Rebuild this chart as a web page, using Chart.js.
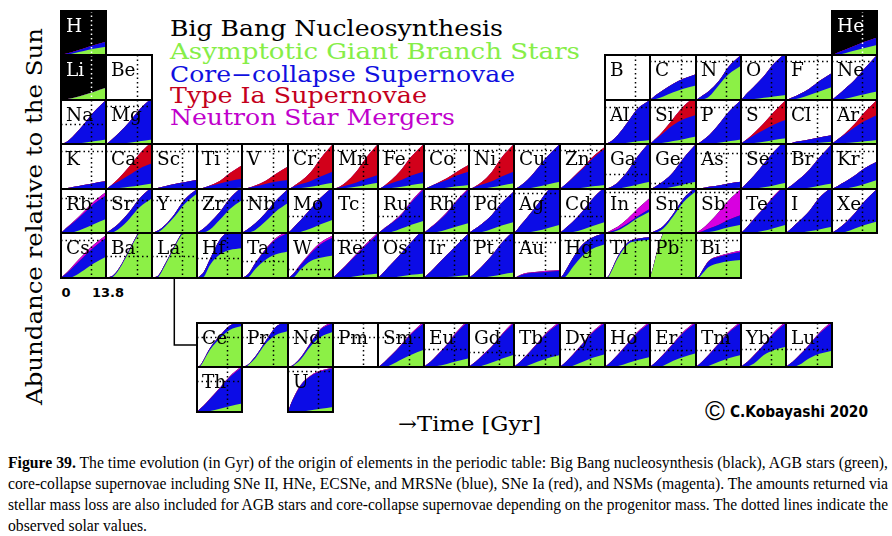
<!DOCTYPE html>
<html><head><meta charset="utf-8">
<script src="https://cdn.jsdelivr.net/npm/chart.js@4.4.0/dist/chart.umd.min.js"></script>
<style>
html,body{margin:0;padding:0;background:#fff;}
#page{position:relative;width:892px;height:536px;overflow:hidden;background:#fff;}
#page canvas{position:absolute;}
#txt{position:absolute;left:0;top:0;}
</style></head><body>
<div id="page">
<svg id="txt" width="892" height="536" xmlns="http://www.w3.org/2000/svg">
  <g font-family="DejaVu Serif" font-size="22">
    <text x="170" y="36" textLength="333" lengthAdjust="spacingAndGlyphs" fill="#000">Big Bang Nucleosynthesis</text>
    <text x="170" y="58.5" textLength="410" lengthAdjust="spacingAndGlyphs" fill="#86ee48">Asymptotic Giant Branch Stars</text>
    <text x="170" y="81.5" textLength="345" lengthAdjust="spacingAndGlyphs" fill="#1010e0">Core−collapse Supernovae</text>
    <text x="170" y="103" textLength="257" lengthAdjust="spacingAndGlyphs" fill="#c4001c">Type Ia Supernovae</text>
    <text x="170" y="124.5" textLength="285" lengthAdjust="spacingAndGlyphs" fill="#c000cc">Neutron Star Mergers</text>
  </g>
  <text transform="translate(41.5,405) rotate(-90)" font-family="DejaVu Serif" font-size="22" textLength="377" lengthAdjust="spacingAndGlyphs" fill="#000">Abundance relative to the Sun</text>
  <g id="xticks" font-family="DejaVu Sans" font-weight="bold" font-size="13" fill="#000"></g>
  <polyline points="174.3,278 174.3,345 197.5,345" fill="none" stroke="#000" stroke-width="1.5"/>
  <text x="398" y="431" font-family="DejaVu Serif" font-size="21" textLength="143" lengthAdjust="spacingAndGlyphs" fill="#000">→Time [Gyr]</text>
  <text x="705" y="420" font-family="Liberation Sans" font-size="27" fill="#000">©</text>
  <text x="730" y="416.7" font-family="DejaVu Sans" font-weight="bold" font-size="16" textLength="138" lengthAdjust="spacingAndGlyphs" fill="#000">C.Kobayashi 2020</text>
  <g font-family="Liberation Serif" font-size="16.5" fill="#000">
    <text x="8" y="467.5" textLength="880" lengthAdjust="spacingAndGlyphs"><tspan font-weight="bold">Figure 39.</tspan> The time evolution (in Gyr) of the origin of elements in the periodic table: Big Bang nucleosynthesis (black), AGB stars (green),</text>
    <text x="8" y="488.5" textLength="880" lengthAdjust="spacingAndGlyphs">core-collapse supernovae including SNe II, HNe, ECSNe, and MRSNe (blue), SNe Ia (red), and NSMs (magenta). The amounts returned via</text>
    <text x="8" y="509.5" textLength="880" lengthAdjust="spacingAndGlyphs">stellar mass loss are also included for AGB stars and core-collapse supernovae depending on the progenitor mass. The dotted lines indicate the</text>
    <text x="8" y="530.5" textLength="139" lengthAdjust="spacingAndGlyphs">observed solar values.</text>
  </g>
</svg>
</div>
<script>
// ---------------- DATA ----------------
// time samples (Gyr) shared by every panel
const timeGyr = [0, 1, 2, 4, 7, 10, 13.8];
const xTickLabels = ['0', '13.8'];
const solarBirthGyr = 9.2;

const symbols = ['H','He','Li','Be','B','C','N','O','F','Ne','Na','Mg','Al','Si','P','S','Cl','Ar',
  'K','Ca','Sc','Ti','V','Cr','Mn','Fe','Co','Ni','Cu','Zn','Ga','Ge','As','Se','Br','Kr',
  'Rb','Sr','Y','Zr','Nb','Mo','Tc','Ru','Rh','Pd','Ag','Cd','In','Sn','Sb','Te','I','Xe',
  'Cs','Ba','La','Hf','Ta','W','Re','Os','Ir','Pt','Au','Hg','Tl','Pb','Bi',
  'Ce','Pr','Nd','Pm','Sm','Eu','Gd','Tb','Dy','Ho','Er','Tm','Yb','Lu','Th','U'];

// periodic-table slot of each symbol (layout)
const gridRow = [0,0,1,1,1,1,1,1,1,1,2,2,2,2,2,2,2,2,
  3,3,3,3,3,3,3,3,3,3,3,3,3,3,3,3,3,3,
  4,4,4,4,4,4,4,4,4,4,4,4,4,4,4,4,4,4,
  5,5,5,5,5,5,5,5,5,5,5,5,5,5,5,
  6,6,6,6,6,6,6,6,6,6,6,6,6,6,7,7];
const gridCol = [0,17,0,1,12,13,14,15,16,17,0,1,12,13,14,15,16,17,
  0,1,2,3,4,5,6,7,8,9,10,11,12,13,14,15,16,17,
  0,1,2,3,4,5,6,7,8,9,10,11,12,13,14,15,16,17,
  0,1,2,3,4,5,6,7,8,9,10,11,12,13,14,
  3,4,5,6,7,8,9,10,11,12,13,14,15,16,3,5];

// observed solar level in each panel (panel units, null = not drawn)
const solarLevel = {H:null,He:null,Li:null,Be:null,B:null,C:.87,N:.87,O:.87,F:.87,Ne:.87,
  Na:.45,Mg:.87,Al:.85,Si:.85,P:.85,S:.85,Cl:.85,Ar:.85,
  K:.85,Ca:.85,Sc:.85,Ti:.85,V:.85,Cr:.87,Mn:.87,Fe:.87,Co:.87,Ni:.87,Cu:.87,Zn:.87,Ga:.33,Ge:.14,As:.8,Se:.8,Br:.8,Kr:.84,
  Rb:.8,Sr:.75,Y:.75,Zr:.75,Nb:.75,Mo:.38,Tc:null,Ru:.38,Rh:.85,Pd:.85,Ag:.9,Cd:.38,In:.94,Sn:.94,Sb:.94,Te:.3,I:.3,Xe:.3,
  Cs:.85,Ba:.49,La:.49,Hf:.44,Ta:.38,W:.21,Re:.85,Os:.85,Ir:.85,Pt:.85,Au:.8,Hg:.85,Tl:.85,Pb:.85,Bi:.85,
  Ce:.69,Pr:.69,Nd:.69,Pm:.69,Sm:.69,Eu:.4,Gd:.35,Tb:.27,Dy:.42,Ho:.38,Er:.38,Tm:.38,Yb:.42,Lu:.42,Th:.68,U:.9};

// contributions (panel units) at timeGyr, per source
const bbn = {
  H:[1,1,1,1,1,1,1], He:[1,1,1,1,1,1,1], Li:[1,1,1,1,1,1,1]
};
const agb = {
  H:[0,0,0.01,0.04,0.09,0.14,0.19], He:[0,0,0.01,0.04,0.10,0.16,0.23], Li:[0,0.01,0.02,0.05,0.11,0.18,0.27],
  C:[0,0.01,0.03,0.08,0.17,0.25,0.32], N:[0,0,0.01,0.08,0.33,0.57,0.76], O:[0,0,0.01,0.02,0.05,0.08,0.11],
  F:[0,0,0.01,0.04,0.11,0.19,0.29], Ne:[0,0,0.01,0.03,0.08,0.13,0.19],
  Na:[0,0,0,0.01,0.03,0.06,0.10], Mg:[0,0,0,0.01,0.03,0.06,0.10], Al:[0,0,0,0.01,0.03,0.06,0.09],
  Si:[0,0,0.01,0.03,0.07,0.11,0.17], P:[0,0,0,0.01,0.03,0.06,0.10], S:[0,0,0.01,0.02,0.05,0.09,0.13],
  Cl:[0,0,0,0.01,0.02,0.03,0.05], Ar:[0,0,0.01,0.02,0.04,0.06,0.09],
  K:[0,0,0,0,0.01,0.01,0.02], Ca:[0,0,0,0.02,0.05,0.08,0.12], Sc:[0,0,0,0,0.01,0.01,0.02],
  Ti:[0,0,0,0,0.01,0.02,0.03], V:[0,0,0,0,0.01,0.01,0.02], Cr:[0,0,0,0.02,0.05,0.09,0.14],
  Mn:[0,0,0,0.02,0.05,0.09,0.14], Fe:[0,0,0,0.02,0.05,0.09,0.13], Co:[0,0,0,0.01,0.03,0.06,0.09],
  Ni:[0,0,0,0.01,0.04,0.08,0.13], Cu:[0,0,0,0.01,0.05,0.10,0.16], Zn:[0,0,0,0.01,0.03,0.06,0.09],
  Ga:[0,0,0,0.01,0.05,0.10,0.16], Ge:[0,0,0,0.01,0.05,0.10,0.16], As:[0,0,0,0,0.01,0.02,0.03],
  Se:[0,0,0,0.01,0.04,0.08,0.14], Br:[0,0,0,0.01,0.03,0.07,0.12], Kr:[0,0,0,0.01,0.05,0.11,0.20],
  Rb:[0,0,0,0.02,0.10,0.20,0.32], Sr:[0,0,0.01,0.10,0.32,0.58,0.79], Y:[0,0,0.02,0.14,0.38,0.66,0.90],
  Zr:[0,0,0.01,0.08,0.30,0.54,0.75], Nb:[0,0,0.01,0.07,0.26,0.48,0.68], Mo:[0,0,0,0.03,0.10,0.20,0.30],
  Ru:[0,0,0,0.02,0.10,0.19,0.28], Rh:[0,0,0,0.02,0.08,0.15,0.23], Pd:[0,0,0,0.02,0.09,0.17,0.25],
  Ag:[0,0,0,0.01,0.05,0.11,0.19], Cd:[0,0,0,0.02,0.08,0.16,0.25], In:[0,0,0.01,0.06,0.19,0.34,0.49],
  Sn:[0,0,0.01,0.10,0.38,0.70,0.95], Sb:[0,0,0,0.02,0.07,0.13,0.19], Te:[0,0,0,0.01,0.05,0.11,0.19],
  I:[0,0,0,0.01,0.04,0.08,0.14], Xe:[0,0,0,0.02,0.10,0.18,0.26],
  Cs:[0,0,0,0.04,0.17,0.32,0.47], Ba:[0,0,0.02,0.20,0.60,1.00,1.20], La:[0,0,0.03,0.28,0.70,1.05,1.20],
  Hf:[0,0,0.02,0.29,0.52,0.62,0.66], Ta:[0,0,0.02,0.20,0.40,0.52,0.59], W:[0,0,0.03,0.20,0.38,0.45,0.50],
  Re:[0,0,0,0.01,0.04,0.07,0.10], Os:[0,0,0,0.01,0.04,0.07,0.10], Ir:[0,0,0,0.01,0.02,0.04,0.07],
  Pt:[0,0,0,0.01,0.04,0.08,0.12], Au:[0,0,0,0.005,0.01,0.015,0.02], Hg:[0,0,0.05,0.25,0.50,0.65,0.75],
  Tl:[0,0.02,0.15,0.45,0.75,0.82,0.85], Pb:[0,0.25,0.55,1.00,1.20,1.30,1.40], Bi:[0,0.02,0.10,0.25,0.33,0.37,0.40],
  Ce:[0,0.02,0.13,0.39,0.65,0.84,0.93], Pr:[0,0,0.05,0.20,0.52,0.72,0.82], Nd:[0,0,0.05,0.18,0.48,0.68,0.80],
  Sm:[0,0,0,0.05,0.17,0.28,0.39], Eu:[0,0,0,0.02,0.07,0.13,0.20], Gd:[0,0,0,0.03,0.10,0.19,0.28],
  Tb:[0,0,0,0.03,0.12,0.20,0.27], Dy:[0,0,0,0.03,0.12,0.21,0.29], Ho:[0,0,0,0.02,0.09,0.16,0.23],
  Er:[0,0,0,0.03,0.14,0.23,0.31], Tm:[0,0,0,0.03,0.12,0.20,0.27], Yb:[0,0,0.01,0.08,0.27,0.38,0.46],
  Lu:[0,0,0,0.05,0.20,0.30,0.37], Th:[0,0,0,0.02,0.07,0.13,0.19], U:[0,0,0,0.01,0.04,0.07,0.11]
};
const ccsn = {
  H:[0,0.02,0.03,0.04,0.06,0.08,0.11], He:[0,0.03,0.05,0.08,0.11,0.14,0.17],
  C:[0,0.05,0.09,0.14,0.19,0.22,0.25], N:[0,0.05,0.09,0.12,0.09,0.17,0.24], O:[0,0.08,0.15,0.28,0.48,0.72,0.94],
  F:[0,0.03,0.05,0.09,0.14,0.23,0.31], Ne:[0,0.06,0.11,0.22,0.37,0.57,0.81],
  Na:[0,0.02,0.06,0.19,0.42,0.66,0.90], Mg:[0,0.05,0.12,0.25,0.47,0.72,0.95], Al:[0,0.03,0.07,0.20,0.47,0.74,0.91],
  Si:[0,0.07,0.12,0.22,0.36,0.45,0.49], P:[0,0.03,0.08,0.19,0.42,0.67,0.90], S:[0,0.06,0.10,0.18,0.27,0.35,0.42],
  Cl:[0,0.01,0.03,0.05,0.08,0.12,0.15], Ar:[0,0.06,0.11,0.20,0.34,0.46,0.57],
  K:[0,0.01,0.02,0.05,0.08,0.12,0.15], Ca:[0,0.05,0.10,0.16,0.26,0.37,0.45], Sc:[0,0.01,0.03,0.06,0.10,0.14,0.18],
  Ti:[0,0.01,0.03,0.07,0.11,0.16,0.20], V:[0,0.01,0.03,0.06,0.10,0.15,0.18], Cr:[0,0.03,0.06,0.09,0.13,0.19,0.25],
  Mn:[0,0.02,0.04,0.06,0.09,0.13,0.17], Fe:[0,0.03,0.07,0.11,0.15,0.21,0.26], Co:[0,0.03,0.06,0.11,0.17,0.24,0.30],
  Ni:[0,0.02,0.05,0.09,0.13,0.20,0.26], Cu:[0,0.03,0.08,0.19,0.40,0.62,0.84], Zn:[0,0.06,0.12,0.24,0.42,0.62,0.81],
  Ga:[0,0.02,0.05,0.14,0.35,0.62,0.89], Ge:[0,0.03,0.07,0.16,0.33,0.58,0.84], As:[0,0.01,0.02,0.05,0.07,0.10,0.13],
  Se:[0,0.07,0.15,0.29,0.52,0.74,0.96], Br:[0,0.05,0.10,0.21,0.40,0.63,0.88], Kr:[0,0.04,0.08,0.15,0.25,0.35,0.41],
  Rb:[0,0.07,0.13,0.23,0.35,0.46,0.54], Sr:[0,0.05,0.09,0.13,0.16,0.20,0.26], Y:[0,0.03,0.04,0.04,0.06,0.10,0.10],
  Zr:[0,0.05,0.09,0.16,0.18,0.24,0.30], Nb:[0,0.05,0.09,0.15,0.19,0.24,0.32], Mo:[0,0.07,0.15,0.27,0.45,0.60,0.75],
  Ru:[0,0.05,0.11,0.20,0.31,0.51,0.72], Rh:[0,0.06,0.12,0.22,0.37,0.57,0.77], Pd:[0,0.05,0.10,0.19,0.32,0.51,0.70],
  Ag:[0,0.08,0.18,0.35,0.59,0.84,1.01], Cd:[0,0.06,0.13,0.24,0.42,0.62,0.80], In:[0,0.02,0.03,0.03,0.03,0.04,0.06],
  Sn:[0,0.03,0.05,0.06,0.06,0.08,0.10], Sb:[0,0.02,0.04,0.08,0.12,0.17,0.22], Te:[0,0.07,0.15,0.31,0.51,0.71,0.91],
  I:[0,0.06,0.13,0.26,0.46,0.72,0.91], Xe:[0,0.05,0.10,0.20,0.35,0.54,0.74],
  Cs:[0,0.06,0.12,0.22,0.30,0.36,0.42], Ba:[0,0.02,0.03,0.03,0.03,0.03,0.03], La:[0,0.02,0.03,0.03,0.03,0.03,0.03],
  Hf:[0,0.05,0.10,0.13,0.33,0.43,0.54], Ta:[0,0.04,0.08,0.13,0.22,0.33,0.41], W:[0,0.05,0.09,0.10,0.17,0.30,0.40],
  Re:[0,0.07,0.14,0.27,0.46,0.65,0.87], Os:[0,0.07,0.15,0.30,0.51,0.73,1.00], Ir:[0,0.07,0.14,0.28,0.49,0.69,0.93],
  Pt:[0,0.06,0.12,0.25,0.46,0.70,0.93], Au:[0,0.03,0.06,0.095,0.11,0.125,0.14], Hg:[0,0.08,0.15,0.20,0.25,0.25,0.25],
  Tl:[0,0.02,0.03,0.04,0.04,0.05,0.06], Pb:[0,0.01,0.01,0.01,0.01,0.01,0.01], Bi:[0,0.03,0.07,0.13,0.14,0.16,0.18],
  Ce:[0,0.02,0.03,0.04,0.06,0.10,0.10], Pr:[0,0.02,0.02,0.04,0.06,0.18,0.23], Nd:[0,0.02,0.02,0.04,0.07,0.17,0.20],
  Sm:[0,0.05,0.12,0.21,0.33,0.47,0.61], Eu:[0,0.06,0.12,0.24,0.43,0.65,0.85], Gd:[0,0.06,0.12,0.22,0.36,0.53,0.72],
  Tb:[0,0.06,0.13,0.25,0.41,0.58,0.73], Dy:[0,0.06,0.13,0.25,0.41,0.57,0.71], Ho:[0,0.06,0.13,0.26,0.44,0.62,0.77],
  Er:[0,0.06,0.13,0.25,0.39,0.55,0.69], Tm:[0,0.06,0.13,0.25,0.41,0.58,0.73], Yb:[0,0.06,0.11,0.18,0.23,0.38,0.54],
  Lu:[0,0.06,0.12,0.21,0.30,0.46,0.63], Th:[0,0.07,0.14,0.27,0.46,0.64,0.81], U:[0,0.20,0.35,0.59,0.76,0.83,0.86]
};
const snia = {
  Si:[0,0,0.01,0.05,0.15,0.29,0.44], S:[0,0,0.01,0.05,0.15,0.28,0.45], Ar:[0,0,0,0.02,0.08,0.20,0.34],
  Ca:[0,0,0.01,0.07,0.19,0.33,0.48], Ti:[0,0,0,0.01,0.06,0.17,0.30], V:[0,0,0,0.02,0.07,0.17,0.30],
  Cr:[0,0,0.02,0.07,0.20,0.40,0.61], Mn:[0,0,0.01,0.07,0.23,0.46,0.69], Fe:[0,0,0.01,0.07,0.23,0.42,0.61],
  Co:[0,0,0,0.01,0.04,0.08,0.15], Ni:[0,0,0.01,0.06,0.21,0.42,0.61], Zn:[0,0,0,0.01,0.02,0.03,0.04]
};
const nsm = {
  Rb:[0,0,0.01,0.02,0.04,0.05,0.07], Ru:[0,0,0.01,0.01,0.02,0.03,0.03], Rh:[0,0,0.01,0.01,0.02,0.02,0.03],
  In:[0,0.01,0.03,0.06,0.11,0.17,0.25], Sb:[0,0.03,0.06,0.14,0.29,0.44,0.59], Te:[0,0,0,0.01,0.01,0.02,0.02],
  Cs:[0,0.01,0.02,0.04,0.06,0.06,0.06], Ta:[0,0,0,0.01,0.02,0.03,0.04], W:[0,0,0.01,0.02,0.03,0.04,0.05],
  Re:[0,0,0.01,0.01,0.02,0.03,0.04], Au:[0,0.005,0.01,0.015,0.02,0.02,0.02], Bi:[0,0,0.01,0.01,0.02,0.02,0.03],
  Nd:[0,0,0,0.01,0.01,0.02,0.03], Sm:[0,0,0,0.01,0.01,0.02,0.04], Eu:[0,0,0,0.01,0.01,0.02,0.04],
  Gd:[0,0,0,0.01,0.01,0.02,0.04], Tb:[0,0,0,0.01,0.01,0.02,0.04], Dy:[0,0,0,0.01,0.01,0.02,0.04],
  Ho:[0,0,0,0.01,0.01,0.02,0.04], Er:[0,0,0,0.01,0.01,0.02,0.04], Tm:[0,0,0,0.01,0.01,0.02,0.04],
  Yb:[0,0,0,0.01,0.01,0.02,0.04], Lu:[0,0,0,0.01,0.01,0.02,0.04], Th:[0,0,0,0.01,0.01,0.02,0.03],
  U:[0,0,0.01,0.01,0.01,0.02,0.02]
};

// ---------------- LAYOUT / STYLE ----------------
const GRID_X0 = 61, CELL_W = 45.33, CELL_H = 44.45;
const ROW_TOP = [11, 55.45, 99.9, 144.35, 188.8, 233.25, 322.7, 367.15];
const sources = [
  {data: agb,  color: '#8cf046'},
  {data: ccsn, color: '#0c0ce6'},
  {data: snia, color: '#d2001a'},
  {data: nsm,  color: '#d800e0'},
  {data: bbn,  color: '#000000'}
];
const darkCells = ['H', 'He', 'Li'];

const cellPlugin = {
  id: 'cellDecor',
  afterDatasetsDraw(chart, args, o) {
    const ctx = chart.ctx, a = chart.chartArea, xs = chart.scales.x, ys = chart.scales.y;
    ctx.save();
    ctx.lineWidth = 1.5;
    ctx.setLineDash([1.5, 3]);
    ctx.strokeStyle = o.dark ? '#ffffff' : '#000000';
    const px = Math.round(xs.getPixelForValue(solarBirthGyr)) + 0.5;
    ctx.beginPath(); ctx.moveTo(px, a.top); ctx.lineTo(px, a.bottom); ctx.stroke();
    if (o.level !== null && o.level !== undefined) {
      const py = Math.round(ys.getPixelForValue(o.level)) + 0.5;
      ctx.strokeStyle = '#000000';
      ctx.beginPath(); ctx.moveTo(a.left, py); ctx.lineTo(a.right, py); ctx.stroke();
    }
    ctx.setLineDash([]);
    ctx.font = '18.5px "DejaVu Serif"';
    ctx.textBaseline = 'alphabetic';
    ctx.fillStyle = o.dark ? '#ffffff' : '#000000';
    ctx.fillText(o.symbol, a.left + 5, a.top + 20.5);
    ctx.lineWidth = 2;
    ctx.strokeStyle = '#000000';
    ctx.strokeRect(a.left, a.top, a.right - a.left, a.bottom - a.top);
    ctx.restore();
  }
};

const page = document.getElementById('page');
symbols.forEach((sym, i) => {
  const r = gridRow[i], c = gridCol[i];
  const x0 = Math.round(GRID_X0 + c * CELL_W), x1 = Math.round(GRID_X0 + (c + 1) * CELL_W);
  const y0 = Math.round(ROW_TOP[r]), y1 = Math.round(ROW_TOP[r] + CELL_H);
  const cv = document.createElement('canvas');
  cv.width = x1 - x0 + 2; cv.height = y1 - y0 + 2;
  cv.style.left = (x0 - 1) + 'px'; cv.style.top = (y0 - 1) + 'px';
  cv.style.width = cv.width + 'px'; cv.style.height = cv.height + 'px';
  page.appendChild(cv);
  // stacked layers; each layer filled down to the origin, upper layers are
  // drawn first (Chart.js draws higher dataset indices first) so lower ones overlay them
  const datasets = sources.map((s, k) => {
    const vals = s.data[sym] || timeGyr.map(() => 0);
    return {
      data: timeGyr.map((t, j) => ({x: t, y: vals[j]})),
      backgroundColor: s.color,
      borderWidth: 0,
      pointRadius: 0,
      fill: 'origin',
      order: 0,
      cubicInterpolationMode: 'monotone'
    };
  });
  new Chart(cv, {
    type: 'line',
    data: {datasets},
    options: {
      responsive: false, animation: false, devicePixelRatio: 1,
      layout: {padding: 1},
      events: [],
      plugins: {
        legend: {display: false}, tooltip: {enabled: false},
        filler: {propagate: false},
        cellDecor: {symbol: sym, level: solarLevel[sym], dark: darkCells.includes(sym)}
      },
      scales: {
        x: {type: 'linear', min: 0, max: 13.8, display: false},
        y: {type: 'linear', min: 0, max: 1, stacked: true, display: false}
      }
    },
    plugins: [cellPlugin]
  });
});

// x tick labels under the Cs panel
const tickG = document.getElementById('xticks');
const tickX = [61.5, 92];
xTickLabels.forEach((lab, k) => {
  const t = document.createElementNS('http://www.w3.org/2000/svg', 'text');
  t.setAttribute('x', tickX[k]); t.setAttribute('y', 296.5);
  t.textContent = lab;
  tickG.appendChild(t);
});
</script>
</body></html>
